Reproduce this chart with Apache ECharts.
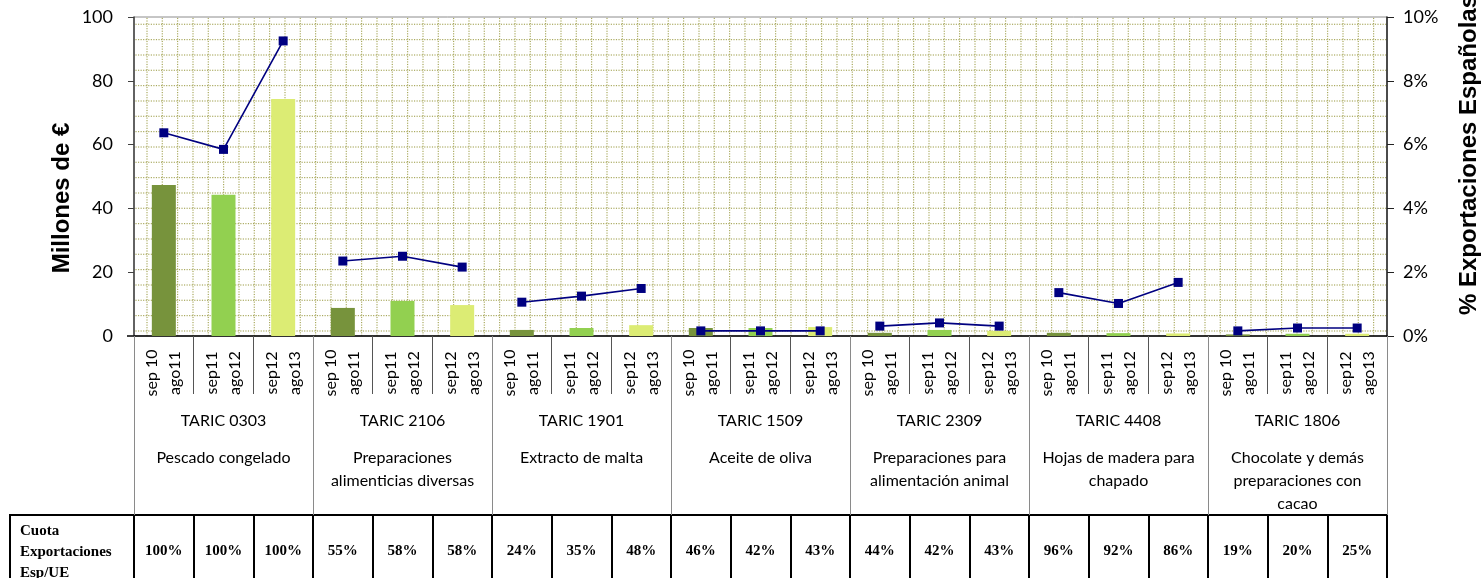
<!DOCTYPE html>
<html>
<head>
<meta charset="utf-8">
<script src="https://cdn.jsdelivr.net/npm/echarts@6/dist/echarts.min.js"></script>
<style>
  html, body { margin: 0; padding: 0; background: #fff; }
  #chart { width: 1481px; height: 578px; }
</style>
</head>
<body>
<div id="chart"></div>
<script>
// Periods shown inside every TARIC group
const periods = ['sep 10\nago11', 'sep11\nago12', 'sep12\nago13'];

// TARIC groups and their descriptions
const groupCodes = ['TARIC 0303', 'TARIC 2106', 'TARIC 1901', 'TARIC 1509', 'TARIC 2309', 'TARIC 4408', 'TARIC 1806'];
const groupNames = [
  'Pescado congelado',
  'Preparaciones\nalimenticias diversas',
  'Extracto de malta',
  'Aceite de oliva',
  'Preparaciones para\nalimentación animal',
  'Hojas de madera para\nchapado',
  'Chocolate y demás\npreparaciones con\ncacao'
];

// Exports, millions of euros (one value per group and period)
const exportsMEUR = [
  47.3, 44.3, 74.3,
  8.8, 11.0, 9.7,
  1.9, 2.5, 3.4,
  2.5, 2.5, 2.8,
  1.0, 1.9, 1.6,
  1.0, 0.9, 0.8,
  0.5, 0.7, 0.7
];

// Share of total Spanish exports, %
const shareSpainPct = [
  6.37, 5.85, 9.25,
  2.35, 2.50, 2.16,
  1.06, 1.25, 1.49,
  0.16, 0.16, 0.16,
  0.31, 0.41, 0.31,
  1.36, 1.02, 1.68,
  0.16, 0.25, 0.25
];

// Spain's share of EU exports, %
const shareUEPct = [
  100, 100, 100,
  55, 58, 58,
  24, 35, 48,
  46, 42, 43,
  44, 42, 43,
  96, 92, 86,
  19, 20, 25
];

const periodColors = ['#77933c', '#92d050', '#dcec74'];

// Category list: each group repeats the three periods
const categories = [];
groupCodes.forEach(() => periods.forEach(p => categories.push(p)));

// Dotted-grid fill for the plot area
function dottedGrid() {
  const size = 46, n = 18, step = size / n;
  const c = document.createElement('canvas');
  c.width = size; c.height = size;
  const g = c.getContext('2d');
  g.fillStyle = '#ffffff';
  g.fillRect(0, 0, size, size);
  g.fillStyle = 'rgba(140,140,40,0.75)';
  const lines = [9, 24.3, 39.6];
  lines.forEach(p => {
    for (let j = 0; j < n; j++) {
      g.fillRect(j * step, p - 0.6, 1.15, 1.2);
      g.fillRect(p - 0.6, j * step, 1.2, 1.15);
    }
  });
  return c;
}

// One line per TARIC group, so the line breaks between groups
const lineSeries = groupCodes.map((code, gi) => ({
  name: code,
  type: 'line',
  xAxisIndex: 0,
  yAxisIndex: 1,
  data: shareSpainPct.map((v, i) => (Math.floor(i / periods.length) === gi ? v : '-')),
  symbol: 'rect',
  symbolSize: 9,
  lineStyle: { color: '#000080', width: 1.6 },
  itemStyle: { color: '#000080' },
  connectNulls: false,
  z: 3
}));

const chart = echarts.init(document.getElementById('chart'), null, { renderer: 'canvas' });

chart.setOption({
  animation: false,
  backgroundColor: '#ffffff',
  grid: {
    left: 134, right: 94, top: 17, bottom: 242,
    containLabel: false,
    outerBoundsMode: 'none',
    show: true,
    backgroundColor: { image: dottedGrid(), repeat: 'repeat' },
    borderColor: '#8c8c8c',
    borderWidth: 1
  },
  xAxis: [
    {
      type: 'category',
      position: 'bottom',
      data: categories,
      axisLine: { onZero: false, lineStyle: { color: '#000', width: 1.5 } },
      axisTick: { show: true, length: 58, lineStyle: { color: '#555', width: 1 } },
      axisLabel: {
        interval: 0, rotate: 90, align: 'center', verticalAlign: 'middle',
        margin: 37, fontFamily: 'Lato', fontSize: 16, color: '#000', lineHeight: 23
      },
      splitLine: { show: false }
    },
    {
      type: 'category',
      position: 'bottom',
      offset: 0,
      data: groupCodes,
      axisLine: { show: false, onZero: false },
      axisTick: { show: true, length: 179, lineStyle: { color: '#8a8a8a', width: 1 } },
      axisLabel: {
        interval: 0, margin: 59.5, verticalAlign: 'top', align: 'center',
        formatter: (value, idx) =>
          '{a|' + value + '}\n' + groupNames[idx].split('\n').map(s => '{b|' + s + '}').join('\n'),
        rich: {
          a: { fontFamily: 'Lato', fontSize: 16, color: '#000', lineHeight: 51, align: 'center' },
          b: { fontFamily: 'Lato', fontSize: 16, color: '#000', lineHeight: 23, align: 'center' }
        }
      },
      splitLine: { show: false }
    },
    {
      type: 'category',
      position: 'bottom',
      offset: 179,
      data: shareUEPct.map(v => v + '%'),
      axisLine: { onZero: false, lineStyle: { color: '#000', width: 2 } },
      axisTick: { show: true, length: 80, lineStyle: { color: '#000', width: 2 } },
      axisLabel: {
        interval: 0, margin: 36, verticalAlign: 'middle', align: 'center',
        fontFamily: 'Liberation Serif', fontWeight: 'bold', fontSize: 15, color: '#000'
      },
      splitLine: { show: false }
    }
  ],
  yAxis: [
    {
      type: 'value',
      min: 0, max: 100, interval: 20,
      axisLine: { show: true, lineStyle: { color: '#404040', width: 1.5 } },
      axisTick: { show: true, length: 6, lineStyle: { color: '#404040' } },
      axisLabel: { margin: 21, fontFamily: 'Lato', fontSize: 18, color: '#000' },
      splitLine: { show: false }
    },
    {
      type: 'value',
      position: 'right',
      min: 0, max: 10, interval: 2,
      axisLine: { show: true, lineStyle: { color: '#222', width: 1.5 } },
      axisTick: { show: true, length: 7, lineStyle: { color: '#222' } },
      axisLabel: { margin: 16, fontFamily: 'Lato', fontSize: 18, color: '#000', formatter: '{value}%' },
      splitLine: { show: false }
    }
  ],
  graphic: [
    {
      type: 'text', x: 62, y: 198, rotation: Math.PI / 2,
      style: { text: 'Millones de €', font: 'bold 24px "Liberation Sans"', fill: '#000', align: 'center', verticalAlign: 'middle' }
    },
    {
      type: 'text', x: 1469, y: 155, rotation: Math.PI / 2,
      style: { text: '% Exportaciones Españolas', font: 'bold 24px "Liberation Sans"', fill: '#000', align: 'center', verticalAlign: 'middle' }
    },
    {
      type: 'text', x: 20, y: 552,
      style: { text: 'Cuota\nExportaciones\nEsp/UE', font: 'bold 15px "Liberation Serif"', lineHeight: 21, fill: '#000', align: 'left', verticalAlign: 'middle' }
    },
    { type: 'line', shape: { x1: 10, y1: 515, x2: 134, y2: 515 }, style: { stroke: '#000', lineWidth: 2 } },
    { type: 'line', shape: { x1: 10, y1: 514, x2: 10, y2: 600 }, style: { stroke: '#000', lineWidth: 2 } },
    { type: 'line', shape: { x1: 127, y1: 336, x2: 134, y2: 336 }, style: { stroke: '#000', lineWidth: 1.5 } }
  ],
  series: [
    {
      name: 'Exportaciones',
      type: 'bar',
      xAxisIndex: 0,
      yAxisIndex: 0,
      data: exportsMEUR,
      barWidth: 24,
      itemStyle: { color: p => periodColors[p.dataIndex % periods.length] },
      z: 2
    }
  ].concat(lineSeries)
});
</script>
</body>
</html>
